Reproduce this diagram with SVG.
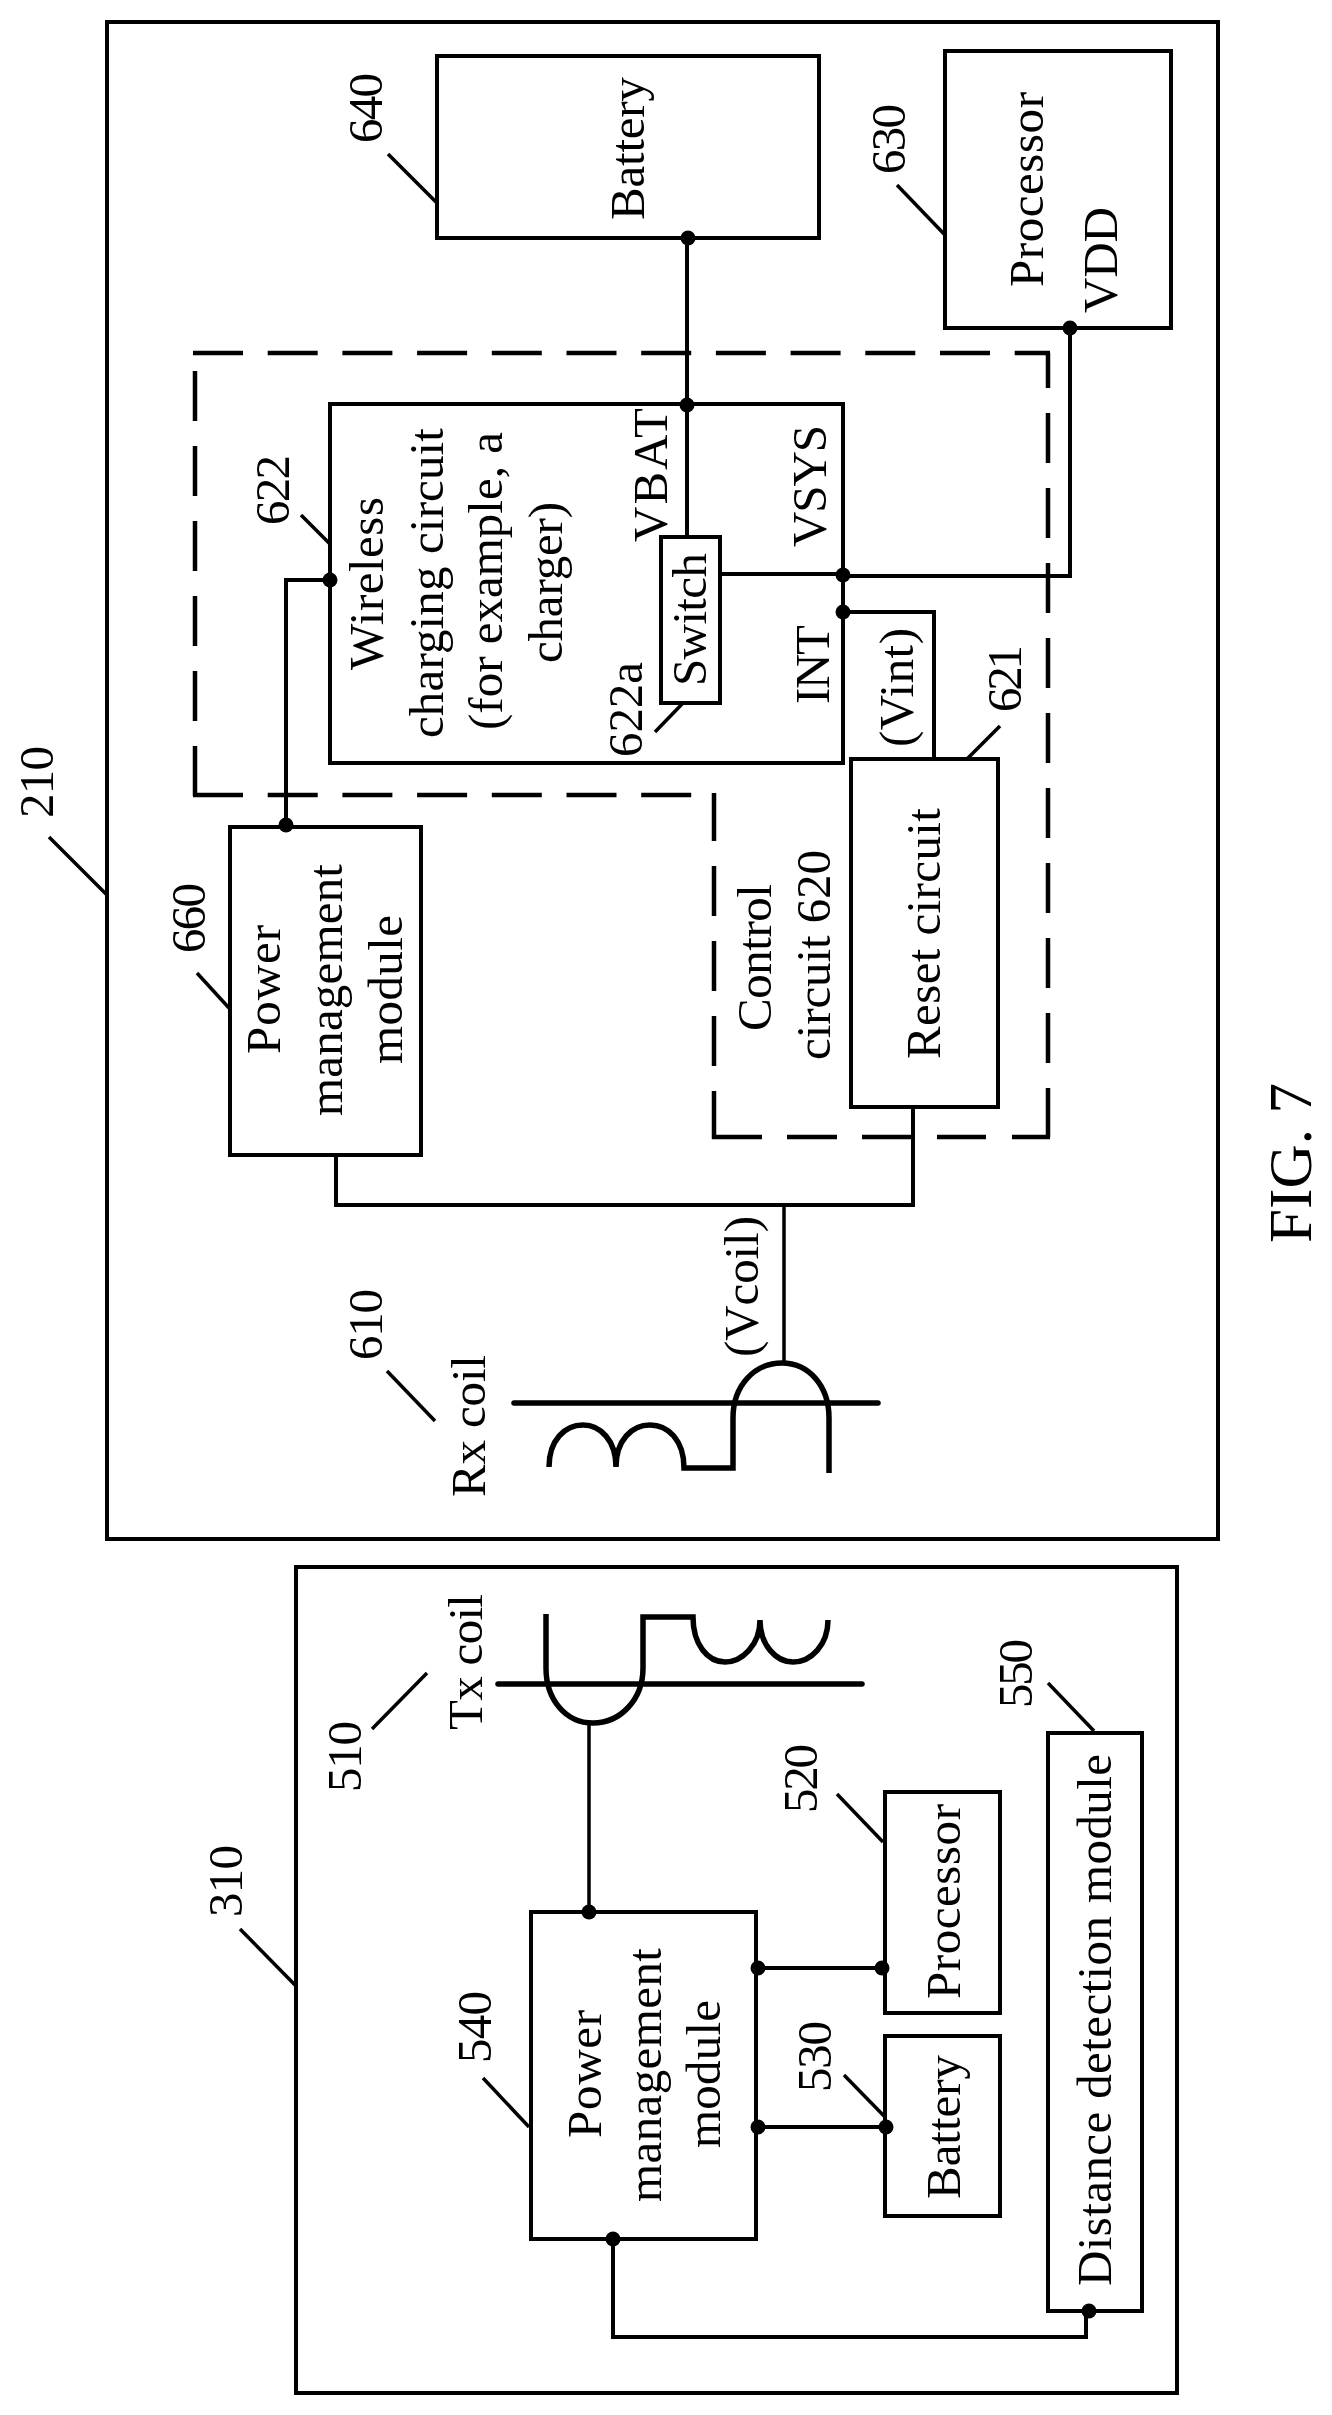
<svg xmlns="http://www.w3.org/2000/svg" width="1332" height="2415" viewBox="0 0 1332 2415">
<style>
.b{fill:none;stroke:#000;stroke-width:4}
.c{fill:none;stroke:#000;stroke-width:4}
.l{fill:none;stroke:#000;stroke-width:3.5}
.d{fill:#000}
.k{fill:none;stroke:#000;stroke-width:5.5}
.cr{fill:none;stroke:#000;stroke-width:5.5;stroke-linecap:round}
.da{fill:none;stroke:#000;stroke-width:4.5}
text{font-family:"Liberation Serif","Times New Roman",serif;font-size:49px;fill:#000}
</style>
<rect width="1332" height="2415" fill="#fff"/>

<g id="device-210">
<rect class="b" x="107" y="22" width="1111" height="1517"/>
<text transform="translate(53 818) rotate(-90)" textLength="72">210</text>
</g>
<g id="dock-310">
<rect class="b" x="296" y="1567" width="881" height="826"/>
<text transform="translate(242 1917) rotate(-90)" textLength="72">310</text>
</g>

<g id="control-620">
<path class="da" d="M193 353H1050" stroke-dasharray="50 24.7"/>
<path class="da" d="M1048 353V1137" stroke-dasharray="50 25" stroke-dashoffset="15"/>
<path class="da" d="M195 371V796" stroke-dasharray="50 25"/>
<path class="da" d="M193 795H716" stroke-dasharray="50 24.7"/>
<path class="da" d="M714 793V1139" stroke-dasharray="50 25" stroke-dashoffset="2"/>
<path class="da" d="M712 1137H762M787 1137H837M862 1137H913M937 1137H986M1012 1137H1050"/>
<text transform="translate(771 1031) rotate(-90)" textLength="147">Control</text>
<text transform="translate(830 1060) rotate(-90)" textLength="210">circuit 620</text>
</g>

<g id="battery-640">
<rect class="b" x="437" y="56" width="382" height="182"/>
<text transform="translate(644 220) rotate(-90)" textLength="143">Battery</text>
<text transform="translate(382 143) rotate(-90)" textLength="70">640</text>
</g>
<g id="processor-630">
<rect class="b" x="945" y="51" width="226" height="277"/>
<text transform="translate(1043 287) rotate(-90)" textLength="195">Processor</text>
<text transform="translate(1117 313) rotate(-90)" textLength="106">VDD</text>
<text transform="translate(905 174) rotate(-90)" textLength="70">630</text>
</g>
<g id="charger-622">
<rect class="b" x="330" y="404" width="513" height="359"/>
<text transform="translate(383 670) rotate(-90)" textLength="173">Wireless</text>
<text transform="translate(443 738) rotate(-90)" textLength="310">charging circuit</text>
<text transform="translate(502 730) rotate(-90)" textLength="298">(for example, a</text>
<text transform="translate(562 663) rotate(-90)" textLength="161">charger)</text>
<text transform="translate(667 542) rotate(-90)" textLength="134">VBAT</text>
<text transform="translate(826 547) rotate(-90)" textLength="122">VSYS</text>
<text transform="translate(829 704) rotate(-90)" textLength="79">INT</text>
<text transform="translate(289 525) rotate(-90)" textLength="70">622</text>
</g>
<g id="switch-622a">
<rect class="b" x="661" y="537" width="59" height="166"/>
<text transform="translate(706 686) rotate(-90)" textLength="133">Switch</text>
<text transform="translate(642 757) rotate(-90)" textLength="95">622a</text>
</g>
<g id="reset-621">
<rect class="b" x="851" y="759" width="147" height="348"/>
<text transform="translate(940 1059) rotate(-90)" textLength="251">Reset circuit</text>
<text transform="translate(1021 712) rotate(-90)" textLength="67">621</text>
</g>
<g id="power-660">
<rect class="b" x="230" y="827" width="191" height="328"/>
<text transform="translate(280 1054) rotate(-90)" textLength="129">Power</text>
<text transform="translate(342 1116) rotate(-90)" textLength="252">management</text>
<text transform="translate(402 1064) rotate(-90)" textLength="149">module</text>
<text transform="translate(205 953) rotate(-90)" textLength="70">660</text>
</g>
<g id="rx-coil-610">
<path class="cr" d="M514 1403H878"/>
<path class="k" d="M549 1467C549 1440 565 1425 583 1425C600 1425 616 1440 616 1467C616 1440 632 1425 650 1425C668 1425 684 1440 684 1468H733V1418C733 1385 755 1363 782 1363C808 1363 829 1385 829 1418V1473"/>
<text transform="translate(485 1497) rotate(-90)" textLength="142">Rx coil</text>
<text transform="translate(382 1360) rotate(-90)" textLength="71">610</text>
</g>
<text id="vint" transform="translate(913 747) rotate(-90)" textLength="119">(Vint)</text>
<text id="vcoil" transform="translate(758 1357) rotate(-90)" textLength="141">(Vcoil)</text>

<g id="tx-coil-510">
<path class="cr" d="M498 1684H862"/>
<path class="k" d="M546 1614V1668C546 1700 566 1723 593 1723C620 1723 643 1700 643 1668V1617H693C693 1645 708 1662 725 1662C742 1662 760 1645 760 1620C760 1645 776 1662 793 1662C811 1662 828 1645 828 1620"/>
<text transform="translate(482 1730) rotate(-90)" textLength="136">Tx coil</text>
<text transform="translate(361 1792) rotate(-90)" textLength="71">510</text>
</g>
<g id="processor-520">
<rect class="b" x="885" y="1792" width="115" height="221"/>
<text transform="translate(960 1999) rotate(-90)" textLength="195">Processor</text>
<text transform="translate(817 1813) rotate(-90)" textLength="69">520</text>
</g>
<g id="battery-530">
<rect class="b" x="885" y="2036" width="115" height="180"/>
<text transform="translate(960 2199) rotate(-90)" textLength="144">Battery</text>
<text transform="translate(831 2092) rotate(-90)" textLength="71">530</text>
</g>
<g id="power-540">
<rect class="b" x="531" y="1912" width="225" height="327"/>
<text transform="translate(601 2138) rotate(-90)" textLength="128">Power</text>
<text transform="translate(661 2202) rotate(-90)" textLength="254">management</text>
<text transform="translate(720 2148) rotate(-90)" textLength="148">module</text>
<text transform="translate(491 2063) rotate(-90)" textLength="72">540</text>
</g>
<g id="distance-550">
<rect class="b" x="1048" y="1733" width="94" height="578"/>
<text transform="translate(1111 2286) rotate(-90)" textLength="532">Distance detection module</text>
<text transform="translate(1032 1708) rotate(-90)" textLength="69">550</text>
</g>
<g id="fig-label">
<text transform="translate(1311 1243) rotate(-90)" style="font-size:61px" textLength="160">FIG. 7</text>
</g>

<g id="connectors">
<path class="c" d="M687 238V537"/>
<path class="c" d="M1070 328V576H843"/>
<path class="c" d="M720 574H843"/>
<path class="c" d="M843 612H934V759"/>
<path class="c" d="M843 575V612"/>
<path class="c" d="M330 580H286V827"/>
<path class="c" d="M913 1107V1205H336V1155"/>
<path class="l" d="M784 1205V1362"/>
<path class="l" d="M589 1722V1912"/>
<path class="c" d="M758 1968H882"/>
<path class="c" d="M758 2127H886"/>
<path class="c" d="M613 2239V2337H1086V2311"/>
<circle class="d" cx="688" cy="238" r="7.5"/>
<circle class="d" cx="687" cy="405" r="7.5"/>
<circle class="d" cx="1070" cy="328" r="7.5"/>
<circle class="d" cx="843" cy="575" r="7.5"/>
<circle class="d" cx="843" cy="612" r="7.5"/>
<circle class="d" cx="330" cy="580" r="7.5"/>
<circle class="d" cx="286" cy="825" r="7.5"/>
<circle class="d" cx="589" cy="1912" r="7.5"/>
<circle class="d" cx="758" cy="1968" r="7.5"/>
<circle class="d" cx="758" cy="2127" r="7.5"/>
<circle class="d" cx="882" cy="1968" r="7.5"/>
<circle class="d" cx="886" cy="2127" r="7.5"/>
<circle class="d" cx="613" cy="2239" r="7.5"/>
<circle class="d" cx="1089" cy="2311" r="7.5"/>
<g id="leaders">
<path class="l" d="M388 154L437 203"/>
<path class="l" d="M897 185L945 235"/>
<path class="l" d="M301 515L330 544"/>
<path class="l" d="M655 732L683 703"/>
<path class="l" d="M1000 726L967 759"/>
<path class="l" d="M197 973L229 1008"/>
<path class="l" d="M49 837L107 895"/>
<path class="l" d="M387 1371L435 1421"/>
<path class="l" d="M240 1929L295 1985"/>
<path class="l" d="M372 1729L427 1673"/>
<path class="l" d="M837 1794L883 1842"/>
<path class="l" d="M844 2075L884 2116"/>
<path class="l" d="M483 2078L529 2127"/>
<path class="l" d="M1048 1683L1094 1731"/>
</g>
</g>
</svg>
